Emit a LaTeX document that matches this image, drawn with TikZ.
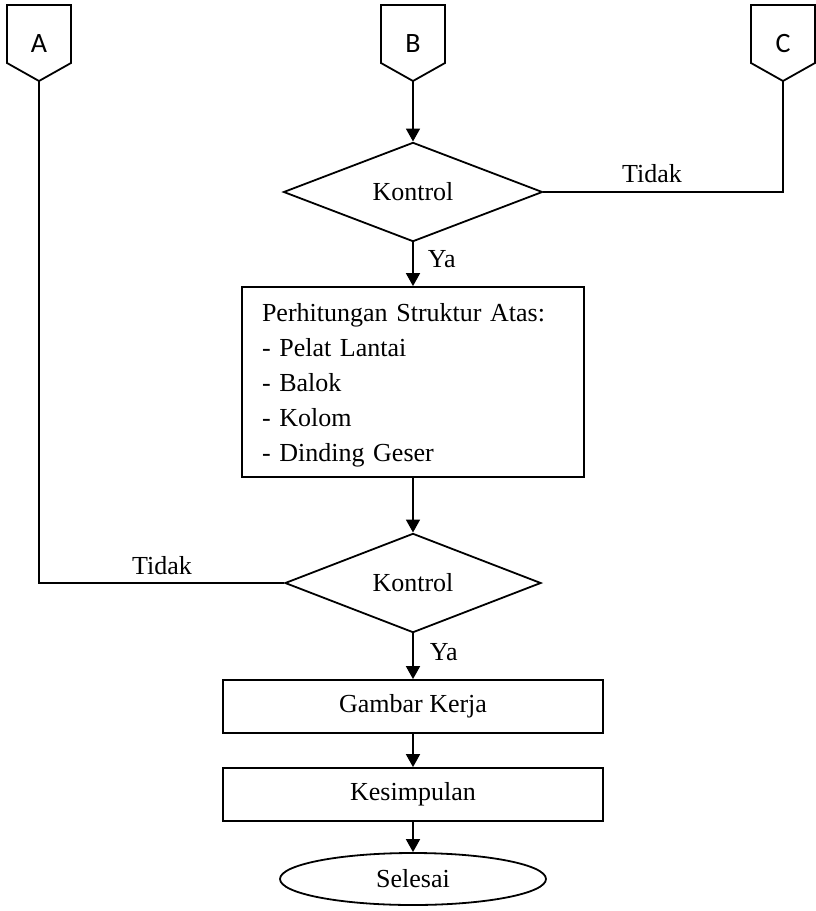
\documentclass[tikz,border=0pt]{standalone}
\usepackage{fontspec}
\setmainfont{Liberation Serif}
\newfontfamily\connfont{Carlito}
\usetikzlibrary{shapes.geometric,arrows.meta,positioning}

\begin{document}
\begin{tikzpicture}[x=1pt,y=-1pt,line width=1.8pt,
  font=\fontsize{26}{35}\selectfont,
  decision/.style={diamond,draw,inner sep=0pt,minimum width=259pt,minimum height=96pt},
  block/.style={rectangle,draw,minimum width=380pt,minimum height=53pt},
  term/.style={ellipse,draw,inner sep=0pt,minimum width=266pt,minimum height=52pt},
  conn/.style={font=\connfont\fontsize{28}{28}\selectfont,inner sep=0pt},
  lbl/.style={inner sep=0pt},
  >={Triangle[length=13pt,width=14pt]}]
 \useasboundingbox (0,0) rectangle (816,911);
 % off-page connectors
 \foreach \n/\x in {A/39,B/413,C/783}{
  \draw (\x-32,5) -- (\x+32,5) -- (\x+32,63) -- (\x,81) -- (\x-32,63) -- cycle;
  \node[conn] (\n) at (\x,44) {\n};
  \coordinate (\n-tip) at (\x,81);
 }
 \node[decision] (kontrol1) at (413,192) {Kontrol};
 \node[draw,text width=302pt,inner xsep=20pt,minimum height=190pt,align=left] (hitung) at (413,382)
  {\rule{0pt}{24pt}Perhitungan Struktur Atas:\\- Pelat Lantai\\- Balok\\- Kolom\\- Dinding Geser};
 \node[decision,minimum width=256pt,minimum height=94pt] (kontrol2) at (413,583) {Kontrol};
 \node[block] (gambar) at (413,706.5) {Gambar Kerja};
 \node[block] (simpul) at (413,794.5) {Kesimpulan};
 \node[term] (selesai) at (413,879) {Selesai};
 % labels
 \node[lbl,anchor=base west] (ya1) at (427,267) {Ya};
 \node[lbl,anchor=base west] (ya2) at (429,660) {Ya};
 \node[lbl,anchor=base] (tidak1) at (652,182) {Tidak};
 \node[lbl,anchor=base] (tidak2) at (162,574) {Tidak};
 % connectors
 \draw[->] (B-tip) -- (kontrol1.north);
 \draw[->] (kontrol1.south) -- (hitung.north);
 \draw[->] (hitung.south) -- (kontrol2.north);
 \draw[->] (kontrol2.south) -- (gambar.north);
 \draw[->] (gambar.south) -- (simpul.north);
 \draw[->] (simpul.south) -- (selesai.north);
 \draw (C-tip) |- (kontrol1.east);
 \draw (A-tip) |- (kontrol2.west);
\end{tikzpicture}
\end{document}
